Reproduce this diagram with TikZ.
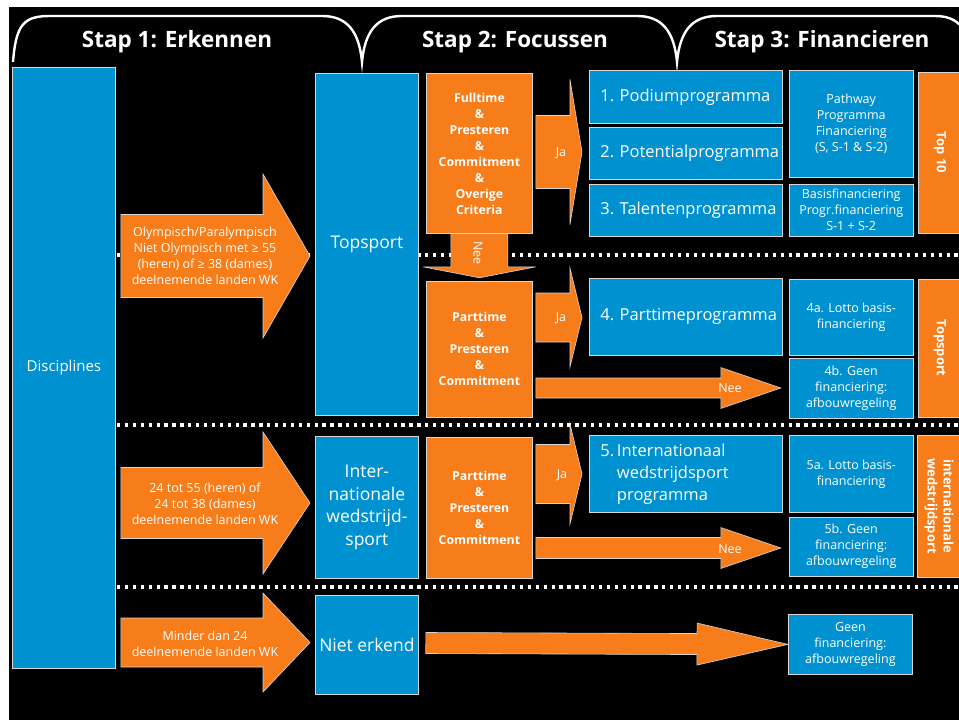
\documentclass[tikz,border=0pt]{standalone}
\usepackage{fontspec}
\setmainfont{Open Sans}
\usetikzlibrary{positioning,calc}

\definecolor{sportblue}{RGB}{0,146,208}
\definecolor{sportorange}{RGB}{247,124,26}
\definecolor{edgegray}{RGB}{215,215,215}

\newcommand{\smalltxt}{\fontsize{12.5}{16}\selectfont}
\newcommand{\bigtxt}{\fontsize{17.5}{22.5}\selectfont}
\newcommand{\progtxt}{\fontsize{16.5}{22}\selectfont\frenchspacing}

% fat arrow: tail, tip, shaft half width, head half width, head length
\newcommand{\bigarrow}[5]{%
  \filldraw[fatarrow] let \p1=(#1), \p2=(#2),
    \n1={atan2(\y2-\y1,\x2-\x1)}, \n2={veclen(\x2-\x1,\y2-\y1)} in
    [shift={(\p1)}, rotate=\n1]
    (0pt,#3pt) -- (\n2-#5pt,#3pt) -- (\n2-#5pt,#4pt) -- (\n2,0pt)
    -- (\n2-#5pt,-#4pt) -- (\n2-#5pt,-#3pt) -- (0pt,-#3pt) -- cycle;}

\begin{document}
\begin{tikzpicture}[
    x=1pt, y=-1pt,
    node distance=4pt,
    bluebox/.style={draw=edgegray, line width=0.8pt, fill=sportblue, text=white, inner sep=0pt, align=center, font=\smalltxt},
    progbox/.style={bluebox, minimum width=193pt, minimum height=52pt, text width=171pt, align=left, font=\progtxt},
    finbox/.style={bluebox, minimum width=124pt},
    critbox/.style={draw=edgegray, line width=0.8pt, fill=sportorange, text=white, inner sep=0pt, align=center, minimum width=106pt, font=\fontsize{12.3}{16}\selectfont\bfseries},
    sidebox/.style={critbox, minimum height=44pt, rotate=-90, font=\fontsize{13}{16}\selectfont\bfseries},
    fatarrow/.style={draw=edgegray, line width=0.6pt, fill=sportorange},
    arrowtext/.style={text=white, align=center, font=\smalltxt},
    stap/.style={text=white, font=\fontsize{22.5}{26}\selectfont\bfseries},
    dotline/.style={draw=white, line width=3.3pt, dash pattern=on 3.3pt off 4.6pt},
    tabline/.style={draw=white, line width=2.4pt}
  ]
    \useasboundingbox (0,0) rectangle (959,720);
    \fill[white] (0,0) rectangle (959,720);
    \fill[black] (9,7) rectangle (959,720);

    % header tabs
    \draw[tabline] (13,62) .. controls (16,24) and (24,16) .. (50,16) -- (322,16)
      .. controls (346,16) and (359,30) .. (362,62)
      .. controls (365,30) and (378,16) .. (402,16) -- (637,16)
      .. controls (661,16) and (674,30) .. (677,62)
      .. controls (680,30) and (693,16) .. (717,16) -- (935,16)
      .. controls (959,16) and (970,30) .. (972,62);
    \node[stap] (stap1) at (177,42) {Stap 1: Erkennen};
    \node[stap] (stap2) at (515,42) {Stap 2: Focussen};
    \node[stap] (stap3) at (822,42) {Stap 3: Financieren};

    % separators
    \foreach \ry in {255,425,587}
      \draw[dotline] (117,\ry) -- (959,\ry);

    % stap 1
    \node[bluebox, anchor=north west, minimum width=103pt, minimum height=601pt,
      font=\fontsize{15}{18}\selectfont] (disc) at (12,67) {Disciplines};
    \node[bluebox, anchor=north west, minimum width=103pt, minimum height=342pt, font=\bigtxt] (topsport) at (315,73) {Topsport};
    \node[bluebox, below=20pt of topsport, minimum width=103pt, minimum height=142pt, font=\bigtxt] (intl) {Inter-\\nationale\\wedstrijd-\\sport};
    \node[bluebox, below=16pt of intl, minimum width=103pt, minimum height=99pt, font=\bigtxt] (niet) {Niet erkend};

    % stap 2
    \node[critbox, anchor=north west, minimum height=160pt] (crit1) at (426,73)
      {Fulltime\\\&\\Presteren\\\&\\Commitment\\\&\\Overige\\Criteria};
    \node[critbox, below=47pt of crit1, minimum height=136pt] (crit2)
      {Parttime\\\&\\Presteren\\\&\\Commitment};
    \node[critbox, below=19pt of crit2, minimum height=141pt] (crit3)
      {Parttime\\\&\\Presteren\\\&\\Commitment};

    \node[progbox, anchor=north west, minimum height=53pt] (podium) at (589,70) {\mbox{1. Podiumprogramma}};
    \node[progbox, below=3pt of podium] (potential) {\mbox{2. Potentialprogramma}};
    \node[progbox, below=4pt of potential] (talent) {\mbox{3. Talentenprogramma}};
    \node[progbox, anchor=north west, minimum height=77pt] (parttime) at (589,278) {\mbox{4. Parttimeprogramma}};
    \node[progbox, anchor=north west, minimum height=77pt] (intlprog) at (589,435)
      {\begin{tabular}{@{}l@{\,}l@{}}5. & Internationaal\\ & wedstrijdsport\\ & programma\end{tabular}};

    % stap 3
    \node[finbox, right=6pt of podium.north east, anchor=north west, minimum height=107pt] (pathway)
      {Pathway\\Programma\\Financiering\\(S, S-1 \& S-2)};
    \node[finbox, right=6pt of talent, minimum height=52pt] (basis)
      {Basisfinanciering\\Progr.financiering\\S-1 + S-2};
    \node[finbox, right=6pt of parttime, minimum height=76pt] (lotto4) {4a. Lotto basis-\\financiering};
    \node[finbox, below=3pt of lotto4, minimum height=60pt] (geen4) {4b. Geen\\financiering:\\afbouwregeling};
    \node[finbox, right=6pt of intlprog, minimum height=77pt] (lotto5) {5a. Lotto basis-\\financiering};
    \node[finbox, below=4pt of lotto5, minimum height=59pt] (geen5) {5b. Geen\\financiering:\\afbouwregeling};
    \node[finbox, anchor=north west, minimum height=60pt] (geen6) at (788,614) {Geen\\financiering:\\afbouwregeling};

    \node[sidebox, minimum width=161pt] (top10) at (940,152.5) {Top 10};
    \node[sidebox, minimum width=138pt] (topsportlbl) at (940,348) {Topsport};
    \node[sidebox, minimum width=142pt] (intllbl) at (939,506) {internationale\\wedstrijdsport};

    % arrows stap 1
    \bigarrow{$(disc.east|-0,256)+(5,0)$}{$(topsport.west|-0,256)-(5,0)$}{41.5}{82}{47}
    \bigarrow{$(disc.east|-0,503)+(5,0)$}{$(intl.west|-0,503)-(5,0)$}{35.5}{71}{47}
    \bigarrow{$(disc.east|-0,642.5)+(5,0)$}{$(niet.west|-0,642.5)-(5,0)$}{24.5}{49.5}{47}
    \node[arrowtext] (olytxt) at (205,256) {Olympisch/Paralympisch\\Niet Olympisch met ≥ 55\\(heren) of ≥ 38 (dames)\\deelnemende landen WK};
    \node[arrowtext] (inttxt) at (205,504) {24 tot 55 (heren) of\\24 tot 38 (dames)\\deelnemende landen WK};
    \node[arrowtext] (mintxt) at (205,644) {Minder dan 24\\deelnemende landen WK};

    % arrows stap 2
    \bigarrow{$(crit1.east|-0,152)+(3,0)$}{$(podium.west|-0,152)-(7,0)$}{36.5}{72.5}{12}
    \bigarrow{$(crit2.east|-0,317.5)+(3,0)$}{$(parttime.west|-0,317.5)-(7,0)$}{24.5}{49.5}{12}
    \bigarrow{$(crit3.east|-0,474)+(3,0)$}{$(intlprog.west|-0,474)-(7,0)$}{29.5}{50}{12}
    \bigarrow{crit1.south}{$(crit2.north)-(0,3)$}{28.5}{56.5}{11}
    \bigarrow{$(crit2.east|-0,388)+(3,0)$}{$(geen4.west|-0,388)-(8,0)$}{10}{20.5}{60}
    \bigarrow{$(crit3.east|-0,548)+(3,0)$}{$(geen5.west|-0,548)-(8,0)$}{10.5}{20.5}{60}
    \bigarrow{$(niet.east|-0,643)+(7,0)$}{geen6.west}{10.5}{21}{91}
    \node[arrowtext] (ja1) at (561,153) {Ja};
    \node[arrowtext] (ja2) at (561,318) {Ja};
    \node[arrowtext] (ja3) at (562,475) {Ja};
    \node[arrowtext, rotate=-90] (nee1) at (478,253) {Nee};
    \node[arrowtext] (nee2) at (730,388) {Nee};
    \node[arrowtext] (nee3) at (730,549) {Nee};

  \end{tikzpicture}
\end{document}
